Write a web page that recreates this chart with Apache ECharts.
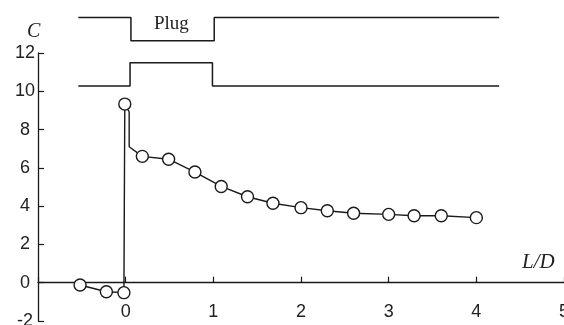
<!DOCTYPE html>
<html>
<head>
<meta charset="utf-8">
<script src="https://cdn.jsdelivr.net/npm/echarts@6/dist/echarts.min.js"></script>
<style>html,body{margin:0;padding:0;background:#fff}#c{width:564px;height:325px}</style>
</head>
<body>
<div id="c"></div>
<script>
// Measured concentration C vs. L/D (circles)
const pointX = [-0.52, -0.22, -0.02, -0.01, 0.19, 0.49, 0.79, 1.09, 1.39, 1.68, 2.00, 2.30, 2.60, 3.00, 3.29, 3.60, 4.00];
const pointY = [-0.12, -0.47, -0.52, 9.33, 6.60, 6.45, 5.78, 5.03, 4.49, 4.15, 3.92, 3.76, 3.63, 3.57, 3.50, 3.50, 3.40];
// bend of the connecting line just after the peak (no marker)
const bendX = [0.04, 0.04];
const bendY = [8.93, 7.10];
// plug sketch (upper and lower outlines)
const plugTopX = [-0.54, 0.06, 0.06, 1.01, 1.01, 4.26];
const plugTopY = [13.85, 13.85, 12.64, 12.64, 13.85, 13.85];
const plugBotX = [-0.54, 0.05, 0.05, 0.99, 0.99, 4.26];
const plugBotY = [10.28, 10.28, 11.49, 11.49, 10.28, 10.28];
const xTicks = [-1, 0, 1, 2, 3, 4, 5];
const yTicks = [-2, 0, 2, 4, 6, 8, 10, 12];

const ink = '#1a1a1a';
const mainData = [];
for (let i = 0; i < pointX.length; i++) {
  mainData.push([pointX[i], pointY[i]]);
  if (i === 3) {
    for (let j = 0; j < bendX.length; j++) {
      mainData.push({ value: [bendX[j], bendY[j]], symbol: 'none' });
    }
  }
}
const zip = (a, b) => a.map((v, i) => [v, b[i]]);

const chart = echarts.init(document.getElementById('c'), null, { renderer: 'canvas' });
chart.setOption({
  animation: false,
  backgroundColor: '#fff',
  grid: { left: 38, right: 0, top: 53, bottom: 4, containLabel: false, outerBoundsMode: 'none' },
  xAxis: {
    type: 'value', min: xTicks[0], max: xTicks[xTicks.length - 1], interval: 1,
    axisLine: { onZero: true, lineStyle: { color: ink, width: 1.3 } },
    axisTick: { inside: true, length: 6, lineStyle: { color: ink, width: 1.2 } },
    axisLabel: {
      margin: -18, color: '#222', fontSize: 18, fontFamily: 'Liberation Sans, Arial',
      formatter: v => (v === -1 ? '' : String(v)), showMaxLabel: true, hideOverlap: false
    },
    splitLine: { show: false }
  },
  yAxis: {
    type: 'value', min: yTicks[0], max: yTicks[yTicks.length - 1], interval: 2,
    axisLine: { show: true, onZero: false, lineStyle: { color: ink, width: 1.3 } },
    axisTick: { show: true, inside: true, length: 6, lineStyle: { color: ink, width: 1.2 } },
    axisLabel: { margin: 13, align: 'center', color: '#222', fontSize: 18, fontFamily: 'Liberation Sans, Arial' },
    splitLine: { show: false }
  },
  series: [
    {
      type: 'line', data: zip(plugTopX, plugTopY), clip: false, symbol: 'none',
      lineStyle: { color: ink, width: 1.5 }, z: 1
    },
    {
      type: 'line', data: zip(plugBotX, plugBotY), clip: false, symbol: 'none',
      lineStyle: { color: ink, width: 1.5 }, z: 1
    },
    {
      type: 'line', data: mainData, clip: false, symbol: 'circle', symbolSize: 12,
      lineStyle: { color: ink, width: 1.4 },
      itemStyle: { color: '#fff', borderColor: ink, borderWidth: 1.4 }, z: 3
    }
  ],
  graphic: [
    { type: 'text', left: 27, top: 22, style: { text: 'C', font: 'italic 20px "Liberation Serif", "Times New Roman", serif', fill: '#222' } },
    { type: 'text', left: 522, top: 252, style: { text: 'L/D', font: 'italic 21px "Liberation Serif", "Times New Roman", serif', fill: '#222' } },
    { type: 'text', left: 154, top: 15, style: { text: 'Plug', font: '19px "Liberation Serif", "Times New Roman", serif', fill: '#222' } }
  ]
});
</script>
</body>
</html>
